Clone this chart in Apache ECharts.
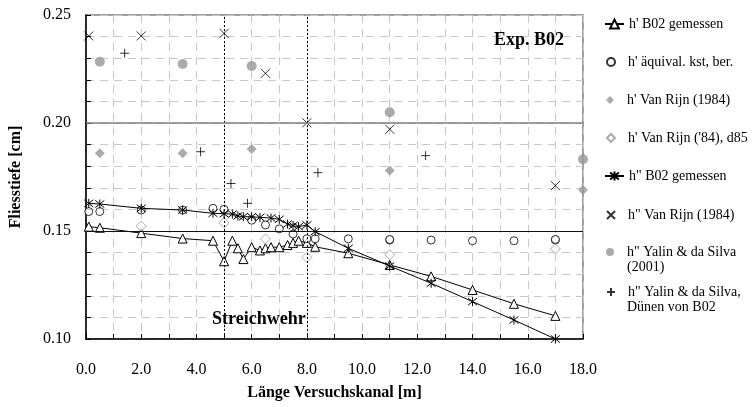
<!DOCTYPE html>
<html><head><meta charset="utf-8">
<script src="https://cdn.jsdelivr.net/npm/echarts@6/dist/echarts.min.js"></script>
<style>html,body{margin:0;padding:0;background:#fff}#c{width:754px;height:407px}</style>
</head><body><div id="c"></div>
<script>
// ---- data ----
const names = [
  "h' B02 gemessen",
  "h' äquival. kst, ber.",
  "h' Van Rijn (1984)",
  "h' Van Rijn ('84), d85",
  'h" B02 gemessen',
  'h" Van Rijn (1984)',
  'h" Yalin & da Silva',
  'h" Yalin & da Silva,'
];
const nameSecondLines = ['', '', '', '', '', '', '(2001)', 'Dünen von B02'];
const hB02_x = [0.1, 0.5, 2.0, 3.5, 4.6, 5.0, 5.3, 5.5, 5.7, 6.0, 6.3, 6.5, 6.7, 7.0, 7.3, 7.5, 7.7, 8.0, 8.3, 9.5, 11.0, 12.5, 14.0, 15.5, 17.0];
const hB02_y = [0.152, 0.1515, 0.149, 0.1465, 0.1455, 0.136, 0.1455, 0.142, 0.137, 0.1425, 0.141, 0.142, 0.1425, 0.1425, 0.1435, 0.1445, 0.1455, 0.1445, 0.1427, 0.1397, 0.1343, 0.129, 0.1227, 0.1163, 0.1107];
const hAeq_x = [0.1, 0.5, 2.0, 3.5, 4.6, 5.0, 6.0, 6.5, 7.0, 7.5, 8.0, 8.3, 9.5, 11.0, 11.0, 12.5, 14.0, 15.5, 17.0, 17.0];
const hAeq_y = [0.159, 0.159, 0.1597, 0.1597, 0.1605, 0.160, 0.155, 0.1528, 0.151, 0.1486, 0.1464, 0.1464, 0.1464, 0.1458, 0.1461, 0.1458, 0.1455, 0.1455, 0.1458, 0.1461];
const hVR_x = [0.5, 3.5, 6.0, 11.0, 18.0];
const hVR_y = [0.186, 0.186, 0.188, 0.178, 0.169];
const hVRd85_x = [2.0, 5.0, 6.5, 8.0, 11.0, 17.0];
const hVRd85_y = [0.1523, 0.1538, 0.1463, 0.1378, 0.139, 0.1417];
const hhB02_x = [0.1, 0.5, 2.0, 3.5, 4.6, 5.0, 5.3, 5.5, 5.7, 6.0, 6.3, 6.7, 7.0, 7.3, 7.5, 7.7, 8.0, 8.3, 9.5, 11.0, 12.5, 14.0, 15.5, 17.0];
const hhB02_y = [0.1628, 0.1625, 0.1605, 0.1597, 0.1582, 0.158, 0.1578, 0.157, 0.1566, 0.1566, 0.1563, 0.156, 0.1554, 0.1532, 0.1525, 0.152, 0.1528, 0.1497, 0.142, 0.1338, 0.1258, 0.1173, 0.1088, 0.100];
const hhVR_x = [0.1, 2.0, 5.0, 6.5, 8.0, 11.0, 17.0];
const hhVR_y = [0.2403, 0.2403, 0.2415, 0.223, 0.2001, 0.1971, 0.171];
const hhYal_x = [0.5, 3.5, 6.0, 11.0, 18.0];
const hhYal_y = [0.2284, 0.2273, 0.2264, 0.205, 0.1832];
const hhYalD_x = [1.4, 4.15, 5.25, 5.85, 8.4, 12.3];
const hhYalD_y = [0.2323, 0.1867, 0.172, 0.1628, 0.177, 0.1849];
const xLabelValues = [0, 2, 4, 6, 8, 10, 12, 14, 16, 18];
const yLabelValues = [0.10, 0.15, 0.20, 0.25];
const weirPositions = [5, 8];
const majorY = [0.15, 0.20];
const annotations = ['Exp. B02', 'Streichwehr'];
const xTitle = 'Länge Versuchskanal [m]';
const yTitle = 'Fliesstiefe [cm]';

// ---- build ----
const zip = (xs, ys) => xs.map((x, i) => [x, ys[i]]);
const FONT = '"Liberation Serif", "Times New Roman", serif';
const ASTER = 'path://M0,1L10,9M0,9L10,1M5,0L5,10';
const CROSS = 'path://M0,0L10,10M0,10L10,0';
const PLUS = 'path://M5,0L5,10M0,5L10,5';
const strokeStyle = {color: '#000', borderColor: '#000', borderWidth: 1};

const series = [
  {name: names[0], type: 'line', data: zip(hB02_x, hB02_y), symbol: 'triangle', symbolSize: 9,
   showAllSymbol: true, lineStyle: {color: '#000', width: 1}, itemStyle: {color: '#fff', borderColor: '#000', borderWidth: 1}, z: 3,
   markLine: {silent: true, symbol: ['none', 'none'], label: {show: false}, animation: false,
     data: [
       {xAxis: weirPositions[0], lineStyle: {type: [2, 2], color: '#000', width: 1}},
       {xAxis: weirPositions[1], lineStyle: {type: [2, 2], color: '#000', width: 1}},
       {yAxis: majorY[0], lineStyle: {type: 'solid', color: '#111', width: 1}},
       {yAxis: majorY[1], lineStyle: {type: 'solid', color: '#7f7f7f', width: 1.5}}
     ]}},
  {name: names[1], type: 'scatter', data: zip(hAeq_x, hAeq_y), symbol: 'circle', symbolSize: 8,
   itemStyle: {color: '#fff', borderColor: '#000', borderWidth: 1}, z: 4},
  {name: names[2], type: 'scatter', data: zip(hVR_x, hVR_y), symbol: 'diamond', symbolSize: 10,
   itemStyle: {color: '#969696'}, z: 4},
  {name: names[3], type: 'scatter', data: zip(hVRd85_x, hVRd85_y), symbol: 'diamond', symbolSize: 10,
   itemStyle: {color: '#fff', borderColor: '#969696', borderWidth: 1}, z: 4},
  {name: names[4], type: 'line', data: zip(hhB02_x, hhB02_y), symbol: ASTER, symbolSize: 9,
   showAllSymbol: true, lineStyle: {color: '#000', width: 1}, itemStyle: strokeStyle, z: 5},
  {name: names[5], type: 'scatter', data: zip(hhVR_x, hhVR_y), symbol: CROSS, symbolSize: 9,
   itemStyle: strokeStyle, z: 4},
  {name: names[6], type: 'scatter', data: zip(hhYal_x, hhYal_y), symbol: 'circle', symbolSize: 10,
   itemStyle: {color: '#969696'}, z: 4},
  {name: names[7], type: 'scatter', data: zip(hhYalD_x, hhYalD_y), symbol: PLUS, symbolSize: 9,
   itemStyle: strokeStyle, z: 4}
];
series.forEach(s => { s.animation = false; s.emphasis = {disabled: true}; });

const legendCenters = [24, 62, 100, 138, 176, 215, 252, 292];
const lineSeries = [0, 4];
const legends = names.map((n, i) => {
  const isLine = lineSeries.indexOf(i) >= 0;
  return {
    data: [n], orient: 'vertical', left: isLine ? 604 : 606, top: legendCenters[i] - 8, padding: 0,
    itemWidth: isLine ? 19 : 8, itemHeight: isLine ? 11 : 8, itemGap: 0, selectedMode: false,
    textStyle: {fontFamily: FONT, fontSize: 14, color: '#000', lineHeight: 16, padding: isLine ? 0 : [0, 0, 0, 8]}
  };
});
const secondLineTexts = nameSecondLines.map((t, i) => t ? {
  type: 'text', left: 627, top: legendCenters[i] + 8, z: 10,
  style: {text: t, font: '14px ' + FONT, fill: '#000'}
} : null).filter(Boolean);

const chart = echarts.init(document.getElementById('c'), null, {renderer: 'canvas'});
chart.setOption({
  backgroundColor: '#fff',
  animation: false,
  grid: {left: 86, top: 15, right: 171, bottom: 68, show: true, borderColor: '#808080', borderWidth: 1.5, backgroundColor: 'transparent'},
  legend: legends,
  xAxis: {
    type: 'value', min: 0, max: 18, interval: 1,
    name: xTitle, nameLocation: 'middle', nameGap: 46,
    nameTextStyle: {fontFamily: FONT, fontSize: 16, fontWeight: 'bold', color: '#000'},
    axisLine: {onZero: false, lineStyle: {color: '#000', width: 1.5}},
    axisTick: {inside: true, length: 5, lineStyle: {color: '#000'}},
    axisLabel: {margin: 23, fontFamily: FONT, fontSize: 16, color: '#000', showMaxLabel: true, showMinLabel: true,
      formatter: v => xLabelValues.some(t => Math.abs(t - v) < 1e-6) ? v.toFixed(1) : ''},
    splitLine: {show: true, lineStyle: {color: '#c8c8c8', type: [8, 6], width: 1}}
  },
  yAxis: {
    type: 'value', min: 0.10, max: 0.25, interval: 0.01,
    name: yTitle, nameLocation: 'middle', nameGap: 62, nameRotate: 90,
    nameTextStyle: {fontFamily: FONT, fontSize: 16, fontWeight: 'bold', color: '#000'},
    axisLine: {show: true, onZero: false, lineStyle: {color: '#000', width: 1.5}},
    axisTick: {show: true, inside: true, length: 5, lineStyle: {color: '#000'}},
    axisLabel: {margin: 15, fontFamily: FONT, fontSize: 16, color: '#000', showMaxLabel: true, showMinLabel: true,
      formatter: v => yLabelValues.some(t => Math.abs(t - v) < 1e-6) ? v.toFixed(2) : ''},
    splitLine: {show: true, lineStyle: {color: '#c8c8c8', type: [8, 6], width: 1}}
  },
  graphic: [
    {type: 'text', left: 494, top: 31, z: 10, style: {text: annotations[0], font: 'bold 18px ' + FONT, fill: '#000'}},
    {type: 'text', left: 212, top: 310, z: 10, style: {text: annotations[1], font: 'bold 18px ' + FONT, fill: '#000'}}
  ].concat(secondLineTexts),
  series: series
});
</script>
</body></html>
